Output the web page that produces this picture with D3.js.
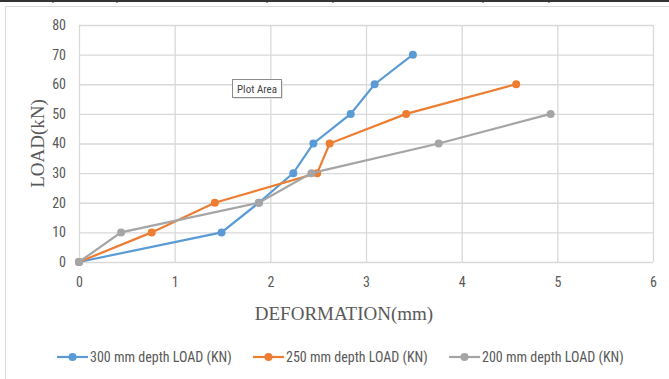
<!DOCTYPE html>
<html>
<head>
<meta charset="utf-8">
<script src="https://cdn.jsdelivr.net/npm/d3@7"></script>
<style>
  body { margin: 0; background: #fff; }
  svg { display: block; }
</style>
</head>
<body>
<div id="chart"></div>
<script>
// values
const xTicks = [0, 1, 2, 3, 4, 5, 6];
const yTicks = [0, 10, 20, 30, 40, 50, 60, 70, 80];
const seriesNames = ["300 mm depth LOAD (KN)", "250 mm depth LOAD (KN)", "200 mm depth LOAD (KN)"];
const seriesColors = ["#5B9BD5", "#ED7D31", "#A5A5A5"];
const def300 = [0, 1.49, 1.88, 2.24, 2.45, 2.84, 3.09, 3.49];
const load300 = [0, 10, 20, 30, 40, 50, 60, 70];
const def250 = [0, 0.76, 1.42, 2.49, 2.62, 3.42, 4.57];
const load250 = [0, 10, 20, 30, 40, 50, 60];
const def200 = [0, 0.44, 1.88, 2.43, 3.76, 4.93];
const load200 = [0, 10, 20, 30, 40, 50];
const tableTicks = [53, 117, 267, 333, 483, 549]; // top table border marks

const width = 669, height = 379;
const margin = { top: 25, right: 16, bottom: 117, left: 79 };

const svg = d3.select("#chart").append("svg")
    .attr("width", width)
    .attr("height", height);

// table line above the chart
svg.append("line")
    .attr("x1", 0).attr("x2", width).attr("y1", 1).attr("y2", 1)
    .attr("stroke", "#333").attr("stroke-width", 2);
svg.selectAll(".tmark").data(tableTicks).enter().append("line")
    .attr("x1", d => d).attr("x2", d => d).attr("y1", 0).attr("y2", 3)
    .attr("stroke", "#333").attr("stroke-width", 1);

// chart border
svg.append("rect")
    .attr("x", 5.5).attr("y", 6.5)
    .attr("width", width + 10).attr("height", height)
    .attr("fill", "none").attr("stroke", "#d9d9d9");

const x = d3.scaleLinear().domain([0, 6]).range([margin.left, width - margin.right]);
const y = d3.scaleLinear().domain([0, 80]).range([height - margin.bottom, margin.top]);

// gridlines
svg.append("g")
    .selectAll("line").data(yTicks).enter().append("line")
    .attr("x1", x(0)).attr("x2", x(6))
    .attr("y1", d => y(d) + 0.5).attr("y2", d => y(d) + 0.5)
    .attr("stroke", "#d9d9d9").attr("stroke-width", 1.3);
svg.append("g")
    .selectAll("line").data(xTicks).enter().append("line")
    .attr("x1", d => x(d) + 0.5).attr("x2", d => x(d) + 0.5)
    .attr("y1", y(0)).attr("y2", y(80))
    .attr("stroke", "#d9d9d9").attr("stroke-width", 1.3);

// axes (labels only)
const tickFont = "'Liberation Sans Narrow', 'Roboto Condensed', Arial, sans-serif";
const xAxis = svg.append("g")
    .attr("transform", `translate(0,${y(0)})`)
    .call(d3.axisBottom(x).tickValues(xTicks).tickFormat(d3.format("d")).tickSize(0).tickPadding(15));
const yAxis = svg.append("g")
    .attr("transform", `translate(${x(0)},0)`)
    .call(d3.axisLeft(y).tickValues(yTicks).tickFormat(d3.format("d")).tickSize(0).tickPadding(13));
[xAxis, yAxis].forEach(a => {
    a.select(".domain").remove();
    a.selectAll("text")
        .attr("fill", "#595959")
        .style("font-family", tickFont)
        .style("font-size", "14px");
});

// axis titles
svg.append("text")
    .attr("x", 344).attr("y", 320)
    .attr("text-anchor", "middle")
    .attr("fill", "#595959")
    .style("font-family", "'Liberation Serif', 'Times New Roman', serif")
    .style("font-size", "19px")
    .text("DEFORMATION(mm)");
svg.append("text")
    .attr("transform", `translate(44,${(y(0) + y(80)) / 2}) rotate(-90)`)
    .attr("text-anchor", "middle")
    .attr("fill", "#595959")
    .style("font-family", "'Liberation Serif', 'Times New Roman', serif")
    .style("font-size", "19px")
    .text("LOAD(kN)");

// series
const series = [
    { name: seriesNames[0], color: seriesColors[0], pts: def300.map((d, i) => [d, load300[i]]) },
    { name: seriesNames[1], color: seriesColors[1], pts: def250.map((d, i) => [d, load250[i]]) },
    { name: seriesNames[2], color: seriesColors[2], pts: def200.map((d, i) => [d, load200[i]]) }
];

const line = d3.line().x(d => x(d[0])).y(d => y(d[1]));

series.forEach(s => {
    const g = svg.append("g");
    g.append("path")
        .attr("d", line(s.pts))
        .attr("fill", "none")
        .attr("stroke", s.color)
        .attr("stroke-width", 2.2);
    g.selectAll("circle").data(s.pts).enter().append("circle")
        .attr("cx", d => x(d[0]))
        .attr("cy", d => y(d[1]))
        .attr("r", 4)
        .attr("fill", s.color);
});

// "Plot Area" tooltip
const tip = svg.append("g").attr("transform", "translate(232,79)");
tip.append("rect")
    .attr("x", 2).attr("y", 2).attr("width", 49).attr("height", 18)
    .attr("fill", "#e6e6e6");
tip.append("rect")
    .attr("x", 0.5).attr("y", 0.5).attr("width", 49).attr("height", 18)
    .attr("fill", "#fff").attr("stroke", "#8c8c8c");
tip.append("text")
    .attr("x", 25).attr("y", 13.5)
    .attr("text-anchor", "middle")
    .attr("fill", "#444")
    .style("font-family", tickFont)
    .style("font-size", "11px")
    .text("Plot Area");

// legend
const legendX = [57, 253, 449];
const legend = svg.append("g");
series.forEach((s, i) => {
    const lg = legend.append("g").attr("transform", `translate(${legendX[i]},357)`);
    lg.append("line")
        .attr("x1", 0).attr("x2", 31).attr("y1", 0).attr("y2", 0)
        .attr("stroke", s.color).attr("stroke-width", 2.2);
    lg.append("circle").attr("cx", 15.5).attr("cy", 0).attr("r", 4).attr("fill", s.color);
    lg.append("text")
        .attr("x", 33).attr("y", 5)
        .attr("fill", "#595959")
        .style("font-family", tickFont)
        .style("font-size", "14px")
        .text(s.name);
});
</script>
</body>
</html>
